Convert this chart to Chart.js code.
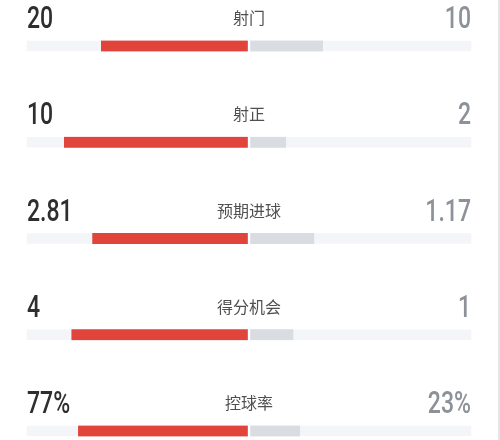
<!DOCTYPE html>
<html>
<head>
<meta charset="utf-8">
<script src="https://cdn.jsdelivr.net/npm/chart.js@4/dist/chart.umd.min.js"></script>
<style>
  html, body { margin: 0; padding: 0; background: #ffffff; }
  #wrap { position: relative; width: 500px; height: 440px; box-sizing: border-box; border-right: 2px solid #e6e6e8; }
  canvas { display: block; }
</style>
</head>
<body>
<div id="wrap"><canvas id="c" width="498" height="440"></canvas></div>
<script>
const categories = ['射门', '射正', '预期进球', '得分机会', '控球率'];
const homeValues = [20, 10, 2.81, 4, 77];
const awayValues = [10, 2, 1.17, 1, 23];
const homeLabels = ['20', '10', '2.81', '4', '77%'];
const awayLabels = ['10', '2', '1.17', '1', '23%'];

const homeShare = homeValues.map((v, i) => v / (v + awayValues[i]));
const awayShare = awayValues.map((v, i) => v / (v + homeValues[i]));

const RED = '#e0443a';
const GREY = '#d9dce1';
const TRACK = '#f3f5f8';

const textPlugin = {
  id: 'rowText',
  afterDatasetsDraw(chart) {
    const { ctx, chartArea, scales } = chart;
    const y = scales.y;
    const midX = scales.x.getPixelForValue(0);
    categories.forEach((cat, i) => {
      const by = y.getPixelForValue(i);
      ctx.save();
      ctx.fillStyle = '#2e2e2e';
      ctx.font = '500 32px Roboto, "DejaVu Sans", sans-serif';
      ctx.textBaseline = 'alphabetic';
      ctx.textAlign = 'left';
      ctx.translate(chartArea.left, by - 18);
      ctx.scale(0.72, 1);
      ctx.fillText(homeLabels[i], 0, 0);
      ctx.restore();

      ctx.save();
      ctx.fillStyle = '#8d9199';
      ctx.font = '500 32px Roboto, "DejaVu Sans", sans-serif';
      ctx.textBaseline = 'alphabetic';
      ctx.textAlign = 'right';
      ctx.translate(chartArea.right, by - 18);
      ctx.scale(0.72, 1);
      ctx.fillText(awayLabels[i], 0, 0);
      ctx.restore();

      ctx.save();
      ctx.fillStyle = '#505050';
      ctx.font = '16px "Noto Sans CJK SC", sans-serif';
      ctx.textAlign = 'center';
      ctx.textBaseline = 'middle';
      ctx.fillText(cat, midX, by - 28);
      ctx.restore();
    });
  }
};

new Chart(document.getElementById('c'), {
  type: 'bar',
  data: {
    labels: categories,
    datasets: [
      {
        data: homeShare.map(s => [-s, 0]),
        backgroundColor: RED,
        borderColor: '#ffffff',
        borderWidth: { left: 0, top: 0, bottom: 0, right: 1.5 },
        borderSkipped: false,
        barThickness: 11,
        clip: false
      },
      {
        data: awayShare.map(s => [0, s]),
        backgroundColor: GREY,
        borderColor: '#ffffff',
        borderWidth: { left: 1.5, top: 0, bottom: 0, right: 0 },
        borderSkipped: false,
        barThickness: 11,
        clip: false
      },
      {
        data: categories.map(() => [-1, 1]),
        backgroundColor: TRACK,
        borderWidth: 0,
        barThickness: 10,
        clip: false
      }
    ]
  },
  options: {
    indexAxis: 'y',
    responsive: false,
    animation: false,
    devicePixelRatio: 1,
    layout: { padding: { left: 27, right: 27, top: 46, bottom: 9 } },
    datasets: { bar: { grouped: false } },
    plugins: { legend: { display: false }, tooltip: { enabled: false } },
    scales: {
      x: { display: false, min: -1, max: 1 },
      y: { display: false, offset: false }
    }
  },
  plugins: [textPlugin]
});
</script>
</body>
</html>
